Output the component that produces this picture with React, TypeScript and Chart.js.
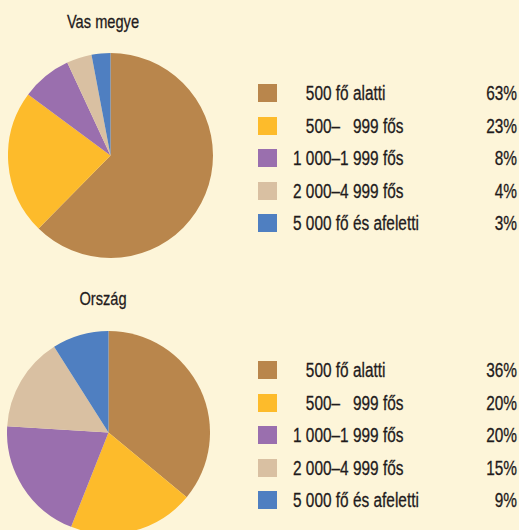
import React, { useEffect, useRef } from "react";
import { Chart, registerables } from "chart.js";

Chart.register(...registerables);

const categories = [
  "\u2007 500 fő alatti",
  "\u2007 500–\u2007 999 fős",
  "1 000–1 999 fős",
  "2 000–4 999 fős",
  "5 000 fő és afeletti",
];
const vasValues = [63, 23, 8, 4, 3];
const orszagValues = [36, 20, 20, 15, 9];
const titles = ["Vas megye", "Ország"];
const colors = ["#b9864c", "#fdbb2b", "#9a6fae", "#d9c0a2", "#4f7fc1"];

const BG = "#fdf5d9";
const FONT = "'Liberation Sans', Arial, sans-serif";
const TEXT = "#1f1b1c";
const SQUEEZE = 0.77;

function Pie({ values, left, top, size }: { values: number[]; left: number; top: number; size: number }) {
  const ref = useRef<HTMLCanvasElement>(null);
  useEffect(() => {
    if (!ref.current) return;
    const chart = new Chart(ref.current, {
      type: "pie",
      data: {
        labels: categories,
        datasets: [
          {
            data: values,
            backgroundColor: colors,
            borderWidth: 0,
          },
        ],
      },
      options: {
        responsive: false,
        animation: false,
        events: [],
        layout: { padding: 0 },
        plugins: {
          legend: { display: false },
          tooltip: { enabled: false },
          title: { display: false },
        },
      },
    });
    return () => chart.destroy();
  }, [values]);
  return (
    <canvas
      ref={ref}
      width={size}
      height={size}
      style={{ position: "absolute", left, top, width: size, height: size }}
    />
  );
}

const textStyle = (size: number): React.CSSProperties => ({
  fontFamily: FONT,
  fontSize: size,
  lineHeight: "24px",
  color: TEXT,
  whiteSpace: "pre",
  WebkitTextStroke: "0.3px " + TEXT,
});

function Legend({ values, top }: { values: number[]; top: number }) {
  return (
    <>
      {categories.map((c, i) => {
        const cy = top + i * 32.5;
        return (
          <React.Fragment key={i}>
            <div
              style={{
                position: "absolute",
                left: 258,
                top: cy - 9,
                width: 19,
                height: 18,
                background: colors[i],
              }}
            />
            <div
              style={{
                position: "absolute",
                left: 293,
                top: cy - 12,
                height: 24,
                ...textStyle(20),
                transform: `scaleX(${SQUEEZE})`,
                transformOrigin: "left center",
              }}
            >
              {c}
            </div>
            <div
              style={{
                position: "absolute",
                right: 2,
                top: cy - 12,
                height: 24,
                ...textStyle(20),
                textAlign: "right",
                transform: `scaleX(${SQUEEZE})`,
                transformOrigin: "right center",
              }}
            >
              {values[i]}%
            </div>
          </React.Fragment>
        );
      })}
    </>
  );
}

function Title({ text, top }: { text: string; top: number }) {
  return (
    <div
      style={{
        position: "absolute",
        left: 0,
        width: 206,
        top,
        textAlign: "center",
        ...textStyle(19),
        transform: `scaleX(${SQUEEZE})`,
        transformOrigin: "103px center",
      }}
    >
      {text}
    </div>
  );
}

export default function App() {
  return (
    <div
      style={{
        position: "absolute",
        left: 0,
        top: 0,
        width: 519,
        height: 530,
        background: BG,
        overflow: "hidden",
      }}
    >
      <Title text={titles[0]} top={10} />
      <Pie values={vasValues} left={8} top={53} size={205} />
      <Legend values={vasValues} top={93} />
      <Title text={titles[1]} top={287} />
      <Pie values={orszagValues} left={7} top={331} size={203} />
      <Legend values={orszagValues} top={370} />
    </div>
  );
}
